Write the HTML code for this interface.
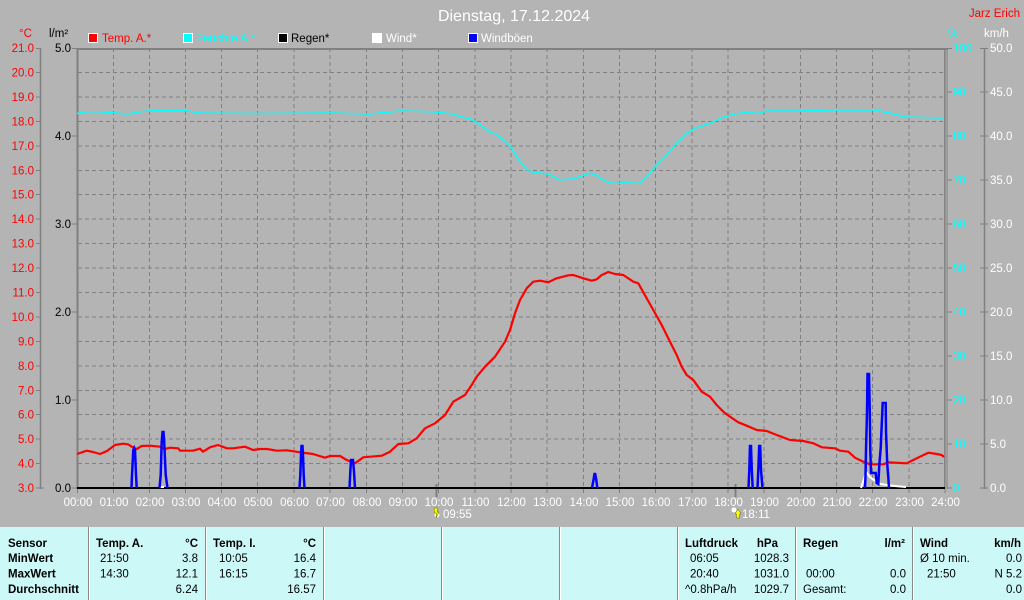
<!DOCTYPE html>
<html>
<head>
<meta charset="utf-8">
<style>
html,body{margin:0;padding:0;background:#b4b4b4;}
body{width:1024px;height:600px;overflow:hidden;position:relative;}
svg{position:absolute;left:0;top:0;}
text{font-family:"Liberation Sans",Arial,sans-serif;}
</style>
</head>
<body>
<svg width="1024" height="600" viewBox="0 0 1024 600" xmlns="http://www.w3.org/2000/svg">
  <rect x="0" y="0" width="1024" height="600" fill="#b4b4b4"/>

  <!-- Title -->
  <text x="514" y="21" font-size="16" fill="#ffffff" text-anchor="middle">Dienstag, 17.12.2024</text>
  <text x="1020" y="17" font-size="11.5" fill="#ff0000" text-anchor="end">Jarz Erich</text>

  <!-- Units -->
  <text x="19" y="37" font-size="11.5" fill="#ff0000">°C</text>
  <text x="49" y="37" font-size="11.5" fill="#000000">l/m²</text>
  <text x="948" y="37" font-size="11.5" fill="#00ffff">%</text>
  <text x="984" y="37" font-size="11.5" fill="#ffffff">km/h</text>

  <!-- Legend -->
  <g font-size="11.5">
    <rect x="88.5" y="33.5" width="9" height="9" fill="#ff0000" stroke="#ffffff" stroke-width="1"/>
    <text x="102" y="42" fill="#ff0000">Temp. A.*</text>
    <rect x="183.5" y="33.5" width="9" height="9" fill="#00ffff" stroke="#ffffff" stroke-width="1"/>
    <text x="196" y="42" fill="#00ffff">Feuchte A.*</text>
    <rect x="278.5" y="33.5" width="9" height="9" fill="#000000" stroke="#ffffff" stroke-width="1"/>
    <text x="291" y="42" fill="#000000">Regen*</text>
    <rect x="372.5" y="33.5" width="9" height="9" fill="#ffffff" stroke="#ffffff" stroke-width="1"/>
    <text x="386" y="42" fill="#ffffff">Wind*</text>
    <rect x="468.5" y="33.5" width="9" height="9" fill="#0000ff" stroke="#ffffff" stroke-width="1"/>
    <text x="481" y="42" fill="#ffffff">Windböen</text>
  </g>

  <!-- Grid -->
  <g stroke="#808080" stroke-width="1" stroke-dasharray="4 3" fill="none">
    <path d="M113.5 48V488M149.5 48V488M185.5 48V488M221.5 48V488M257.5 48V488M294 48V488M330 48V488M366.5 48V488M402.5 48V488M438.5 48V488M475 48V488M511 48V488M547 48V488M583.5 48V488M619.5 48V488M655.5 48V488M692 48V488M728 48V488M764 48V488M800.5 48V488M836.5 48V488M872.5 48V488M909 48V488"/>
    <path d="M78 72.5H944M78 97H944M78 121.5H944M78 146H944M78 170.5H944M78 194.5H944M78 219H944M78 243.5H944M78 268H944M78 292.5H944M78 317H944M78 341.5H944M78 366H944M78 390.5H944M78 414.5H944M78 439H944M78 463.5H944"/>
  </g>

  <!-- Frame -->
  <g stroke="#808080" fill="none">
    <line x1="77" y1="49" x2="948" y2="49" stroke-width="2"/>
    <line x1="77.5" y1="48" x2="77.5" y2="489" stroke-width="2"/>
    <line x1="944.8" y1="48" x2="944.8" y2="489" stroke-width="1.5"/>
    <line x1="947" y1="48" x2="947" y2="489" stroke-width="1"/>
    <!-- left temp axis -->
    <line x1="40.5" y1="48" x2="40.5" y2="489" stroke-width="1.5"/>
    <path stroke-width="1" d="M36 48.5H41M36 72.5H41M36 97H41M36 121.5H41M36 146H41M36 170.5H41M36 194.5H41M36 219H41M36 243.5H41M36 268H41M36 292.5H41M36 317H41M36 341.5H41M36 366H41M36 390.5H41M36 414.5H41M36 439H41M36 463.5H41M36 488H44"/>
    <!-- rain axis ticks -->
    <path stroke-width="1" d="M72 48.5H77M72 136H77M72 224H77M72 312H77M72 400H77M72 488H77"/>
    <!-- right % ticks -->
    <path stroke-width="1" d="M947 48.5H952M947 92H952M947 136H952M947 180H952M947 224H952M947 268H952M947 312H952M947 356H952M947 400H952M947 444H952M947 488H952"/>
    <!-- km/h axis -->
    <line x1="984.5" y1="48" x2="984.5" y2="489" stroke-width="1.5"/>
    <path stroke-width="1" d="M980 48.5H988M980 92H988M980 136H988M980 180H988M980 224H988M980 268H988M980 312H988M980 356H988M980 400H988M980 444H988M980 488H988"/>
    <!-- hour ticks below -->
    <path stroke-width="1" d="M77.5 489V493M113.5 489V493M149.5 489V493M185.5 489V493M221.5 489V493M257.5 489V493M294 489V493M330 489V493M366.5 489V493M402.5 489V493M438.5 489V493M475 489V493M511 489V493M547 489V493M583.5 489V493M619.5 489V493M655.5 489V493M692 489V493M728 489V493M764 489V493M800.5 489V493M836.5 489V493M872.5 489V493M909 489V493M945 489V493"/>
    <!-- sunrise / sunset ticks -->
    <line x1="436.5" y1="484" x2="436.5" y2="497" stroke-width="2"/>
    <line x1="735.5" y1="484" x2="735.5" y2="497" stroke-width="2"/>
  </g>

  <!-- Left temp labels -->
  <g font-size="11.5" fill="#ff0000" text-anchor="end">
    <text x="34" y="52">21.0</text>
    <text x="34" y="76.5">20.0</text>
    <text x="34" y="101">19.0</text>
    <text x="34" y="125.5">18.0</text>
    <text x="34" y="150">17.0</text>
    <text x="34" y="174.5">16.0</text>
    <text x="34" y="198.5">15.0</text>
    <text x="34" y="223">14.0</text>
    <text x="34" y="247.5">13.0</text>
    <text x="34" y="272">12.0</text>
    <text x="34" y="296.5">11.0</text>
    <text x="34" y="321">10.0</text>
    <text x="34" y="345.5">9.0</text>
    <text x="34" y="370">8.0</text>
    <text x="34" y="394.5">7.0</text>
    <text x="34" y="418.5">6.0</text>
    <text x="34" y="443">5.0</text>
    <text x="34" y="467.5">4.0</text>
    <text x="34" y="492">3.0</text>
  </g>
  <!-- rain labels -->
  <g font-size="11.5" fill="#000000" text-anchor="end">
    <text x="71" y="52">5.0</text>
    <text x="71" y="140">4.0</text>
    <text x="71" y="228">3.0</text>
    <text x="71" y="316">2.0</text>
    <text x="71" y="404">1.0</text>
    <text x="71" y="492">0.0</text>
  </g>
  <!-- % labels -->
  <g font-size="11.5" fill="#00ffff">
    <text x="953" y="52">100</text>
    <text x="953" y="96">90</text>
    <text x="953" y="140">80</text>
    <text x="953" y="184">70</text>
    <text x="953" y="228">60</text>
    <text x="953" y="272">50</text>
    <text x="953" y="316">40</text>
    <text x="953" y="360">30</text>
    <text x="953" y="404">20</text>
    <text x="953" y="448">10</text>
    <text x="953" y="492">0</text>
  </g>
  <!-- km/h labels -->
  <g font-size="11.5" fill="#ffffff">
    <text x="990" y="52">50.0</text>
    <text x="990" y="96">45.0</text>
    <text x="990" y="140">40.0</text>
    <text x="990" y="184">35.0</text>
    <text x="990" y="228">30.0</text>
    <text x="990" y="272">25.0</text>
    <text x="990" y="316">20.0</text>
    <text x="990" y="360">15.0</text>
    <text x="990" y="404">10.0</text>
    <text x="990" y="448">5.0</text>
    <text x="990" y="492">0.0</text>
  </g>
  <!-- x labels -->
  <g font-size="11.5" fill="#ffffff" text-anchor="middle">
    <text x="78" y="506">00:00</text>
    <text x="114" y="506">01:00</text>
    <text x="150" y="506">02:00</text>
    <text x="186" y="506">03:00</text>
    <text x="222" y="506">04:00</text>
    <text x="258" y="506">05:00</text>
    <text x="294.5" y="506">06:00</text>
    <text x="330.5" y="506">07:00</text>
    <text x="367" y="506">08:00</text>
    <text x="403" y="506">09:00</text>
    <text x="439" y="506">10:00</text>
    <text x="475.5" y="506">11:00</text>
    <text x="511.5" y="506">12:00</text>
    <text x="547.5" y="506">13:00</text>
    <text x="584" y="506">14:00</text>
    <text x="620" y="506">15:00</text>
    <text x="656" y="506">16:00</text>
    <text x="692.5" y="506">17:00</text>
    <text x="728.5" y="506">18:00</text>
    <text x="764.5" y="506">19:00</text>
    <text x="801" y="506">20:00</text>
    <text x="837" y="506">21:00</text>
    <text x="873" y="506">22:00</text>
    <text x="909.5" y="506">23:00</text>
    <text x="945.5" y="506">24:00</text>
  </g>

  <!-- sunrise / sunset -->
  <g>
    <circle cx="437" cy="515" r="2.5" fill="#ffffff"/>
    <polygon points="434,508 438,508 437,512 439,512 436,518 436.5,513 434.5,513" fill="#ffff00" stroke="#606000" stroke-width="0.5"/>
    <text x="443" y="518" font-size="11.5" fill="#ffffff">09:55</text>
    <circle cx="734" cy="510" r="2.5" fill="#ffffff"/>
    <polygon points="738,509 741,514 739.5,514 739.5,518 736.5,518 736.5,514 735,514" fill="#ffff00" stroke="#606000" stroke-width="0.5"/>
    <text x="742" y="518" font-size="11.5" fill="#ffffff">18:11</text>
  </g>

  <!-- Humidity -->
  <polyline fill="none" stroke="#00ffff" stroke-width="1.5" points="77,113.5 86.7,111.7 100,111.7 113,112.7 128,114 140,111.7 155,110.5 185,110.5 200,113 260,113.5 330,113 370,114 400,111 433.3,111.7 441.7,112.7 453.3,114 463.3,117.3 470,119 480,124.3 490,132.3 496.7,134.3 503.3,140 511.7,148.3 520,161.7 528.3,171 536.7,172.7 548.3,174 553.3,176.7 560,180 566.7,179.3 573.3,179 581.7,176 588.3,173.3 595,174.3 601.7,179 610,183.3 620,183.3 626.7,181.7 631.7,183.3 640,183.3 646.7,176.7 656.7,165 666.7,155 676.7,143.3 686.7,133.3 695,128.3 710,123.3 721.7,117.7 733.3,114.3 743.3,112.7 760,113.3 766.7,111 800,111 830,110 875,110 890,113 905,117 944,118"/>

  <!-- Rain baseline -->
  <line x1="77" y1="488" x2="945" y2="488" stroke="#000000" stroke-width="2"/>

  <!-- Temperature -->
  <polyline fill="none" stroke="#ff0000" stroke-width="2.2" stroke-linejoin="round" points="77,454 86.7,450.7 93,452 100,454 107,451 115,445 123,443.7 128,444.3 133.3,447.7 136.7,449 141.7,446 150,445.7 160,446.7 165,449 170,447.7 178.3,448.3 180,450.7 193,450.7 200,448.7 203,451.7 210,447.3 218,445 227,448.3 233,448.3 245,446.7 253,450 260,449 267,449 277,450.7 287,450.3 300,452.3 313,454 325,457.7 330,456 340,456 346.7,460 355,463.3 363.3,457.3 381.7,455.7 390,451.7 398.3,444 408.3,443.3 416.7,438.3 425,428.3 435,423.3 445,415 453.3,401.7 465,395 471.7,385 476.7,376.7 485,366.7 495,356.7 505,341.7 510,330 515,313.3 520,300 526.7,288.3 533.3,281.7 540,280.7 548.3,282.3 556.7,278.3 568.3,275.3 573.3,275 583.3,278.3 591.7,280.7 596.7,279.3 601.7,275 608.3,272 615,274 623.3,275 633.3,281.7 638.3,283.3 646.7,298.3 653.3,310 661.7,325 670,341.7 676.7,355 681.7,366.7 686.7,375 693.3,380 701.7,391.7 710,396.7 716.7,405 723.3,411.7 730,416.7 738.3,422.3 746.7,425.7 756.7,430 766.7,431 776.7,435 790,440 803.3,441 813.3,443.3 821.7,447.3 835,448.3 840,450.7 848.3,451.7 855,457.7 861.7,461 870,464.3 883.3,464.3 888.3,462.3 906.7,463.3 913.3,460 920,456.7 928.3,452.7 936.7,454 941.7,455 944,457"/>

  <!-- Wind (white) -->
  <g fill="none" stroke="#ffffff" stroke-width="2">
    <polyline points="861,488 863,482 865,476 867,473 869,476 871,478 874,480 877,482 881,484 887,485 895,486 906,487"/>
    <line x1="160" y1="487" x2="164" y2="487"/>
  </g>

  <!-- Gusts (blue) -->
  <g fill="none" stroke="#0000ff" stroke-width="2.5" stroke-linejoin="miter">
    <polyline points="131.5,488 132,475 133.3,450 134.2,448 135,450 136,475 136.7,488"/>
    <polyline points="159.5,488 160.7,475 161.7,442 162.5,432 163.5,432 164.2,442 165.7,475 167.5,488"/>
    <polyline points="299.5,488 300.3,475 301,455 301.5,446 302.5,446 303,455 303.7,475 304.5,488"/>
    <polyline points="349.5,488 350.3,472 351,460 353,460 354,472 355,488"/>
    <polyline points="592,488 593.5,480 594.5,474 595.2,474 596.3,480 597.3,488"/>
    <polyline points="748.5,488 749.3,470 750,446 751,446 751.8,470 752.7,488"/>
    <polyline points="757.5,488 758.3,470 759.2,446 760.2,446 761,470 762.5,488"/>
    <polyline points="865,488 865.5,476 866,450 867,412 867.5,374 869,374 869.7,408 870.3,450 871,473 875.7,473 876.7,483 878.3,484 879.3,465 880.7,448 882.7,403 885.7,403 886,432 887.3,465 888.3,477 889,488"/>
  </g>

  <!-- Table -->
  <rect x="0" y="527" width="1024" height="73" fill="#ccf9f7"/>
  <g stroke="#8a8a8a" stroke-width="1">
    <path d="M88.5 527V600M205.5 527V600M323.5 527V600M441.5 527V600M559.5 527V600M677.5 527V600M795.5 527V600M912.5 527V600"/>
  </g>
  <g stroke="#ffffff" stroke-width="1">
    <path d="M89.5 527V600M206.5 527V600M324.5 527V600M442.5 527V600M560.5 527V600M678.5 527V600M796.5 527V600M913.5 527V600"/>
  </g>

  <g font-size="11.5" fill="#000000">
    <g font-weight="bold">
      <text x="8" y="547">Sensor</text>
      <text x="8" y="562">MinWert</text>
      <text x="8" y="577.5">MaxWert</text>
      <text x="8" y="593">Durchschnitt</text>
      <text x="96" y="547">Temp. A.</text>
      <text x="198" y="547" text-anchor="end">°C</text>
      <text x="213" y="547">Temp. I.</text>
      <text x="316" y="547" text-anchor="end">°C</text>
      <text x="685" y="547">Luftdruck</text>
      <text x="778" y="547" text-anchor="end">hPa</text>
      <text x="803" y="547">Regen</text>
      <text x="905" y="547" text-anchor="end">l/m²</text>
      <text x="920" y="547">Wind</text>
      <text x="1021" y="547" text-anchor="end">km/h</text>
    </g>
    <text x="100" y="562">21:50</text>
    <text x="198" y="562" text-anchor="end">3.8</text>
    <text x="100" y="577.5">14:30</text>
    <text x="198" y="577.5" text-anchor="end">12.1</text>
    <text x="198" y="593" text-anchor="end">6.24</text>

    <text x="219" y="562">10:05</text>
    <text x="316" y="562" text-anchor="end">16.4</text>
    <text x="219" y="577.5">16:15</text>
    <text x="316" y="577.5" text-anchor="end">16.7</text>
    <text x="316" y="593" text-anchor="end">16.57</text>

    <text x="690" y="562">06:05</text>
    <text x="789" y="562" text-anchor="end">1028.3</text>
    <text x="690" y="577.5">20:40</text>
    <text x="789" y="577.5" text-anchor="end">1031.0</text>
    <text x="685" y="593">^0.8hPa/h</text>
    <text x="789" y="593" text-anchor="end">1029.7</text>

    <text x="806" y="577.5">00:00</text>
    <text x="906" y="577.5" text-anchor="end">0.0</text>
    <text x="803" y="593">Gesamt:</text>
    <text x="906" y="593" text-anchor="end">0.0</text>

    <text x="920" y="562">Ø 10 min.</text>
    <text x="1022" y="562" text-anchor="end">0.0</text>
    <text x="927" y="577.5">21:50</text>
    <text x="1022" y="577.5" text-anchor="end">N 5.2</text>
    <text x="1022" y="593" text-anchor="end">0.0</text>
  </g>
</svg>
</body>
</html>
